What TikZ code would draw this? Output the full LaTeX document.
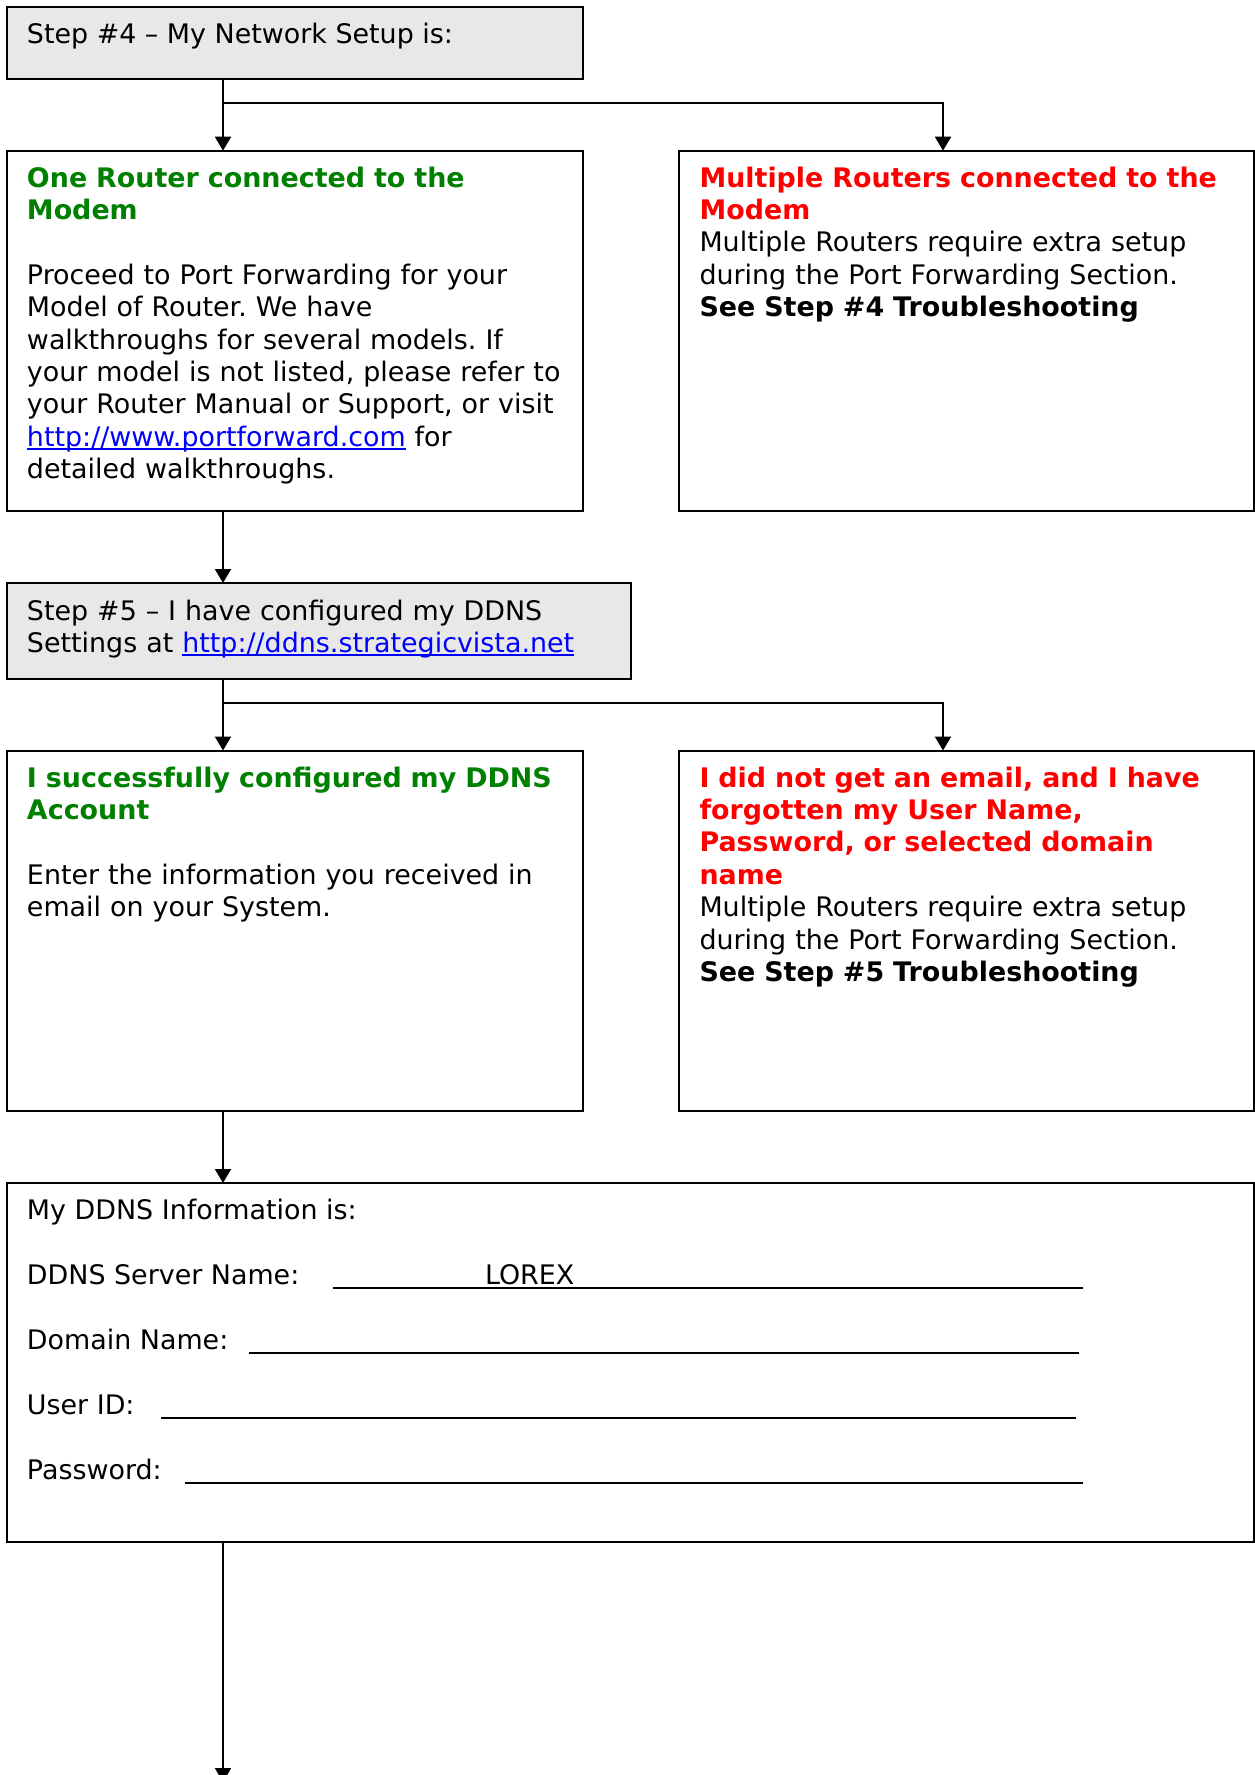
\documentclass[tikz,border=0pt]{standalone}
\usepackage{fontspec}
\setmainfont{DejaVu Sans}
\usetikzlibrary{arrows.meta}
\definecolor{linkblue}{RGB}{0,0,255}
\definecolor{grn}{RGB}{0,128,0}
\definecolor{rd}{RGB}{255,0,0}
\definecolor{boxgray}{RGB}{232,232,232}
\newcommand\myfs{\fontsize{26.9}{32.4}\selectfont\frenchspacing}
\newcommand\ulk[1]{\leavevmode{\color{linkblue}\setbox0=\hbox{#1}\rlap{\rule[-3.5pt]{\wd0}{2pt}}\box0}}
\begin{document}
\begin{tikzpicture}[x=1pt,y=-1pt,
  box/.style={draw, line width=2pt, rectangle, inner sep=0pt, outer sep=0pt, anchor=north west},
  txt/.style={anchor=base west, inner sep=0pt, outer sep=0pt, align=left, text width=600pt, font=\myfs},
  lbl/.style={anchor=base west, inner sep=0pt, outer sep=0pt, font=\myfs},
  arr/.style={line width=2pt, -{Triangle[width=16pt,length=14pt]}},
  fld/.style={line width=2pt}]
\path[use as bounding box, fill=white] (0,0) rectangle (1255,1775);
\clip (0,0) rectangle (1255,1775);

% boxes
\node[box, fill=boxgray, minimum width=576pt, minimum height=72pt] (b1) at (7,7) {};
\node[box, minimum width=576pt, minimum height=360pt] (b2) at (7,150.7) {};
\node[box, minimum width=575pt, minimum height=360pt] (b3) at (679,150.7) {};
\node[box, fill=boxgray, minimum width=623.5pt, minimum height=95.5pt] (b4) at (7,583) {};
\node[box, minimum width=576pt, minimum height=360pt] (b5) at (7,750.5) {};
\node[box, minimum width=575pt, minimum height=360pt] (b6) at (679,750.5) {};
\node[box, minimum width=1247pt, minimum height=359pt] (b7) at (7,1183) {};

% texts
\node[lbl] (t1) at (27,43.5) {Step \#4 – My Network Setup is:};

\node[txt] (t2) at (27,187) {{\bfseries\color{grn}One Router connected to the\\Modem}\\[32.4pt]
Proceed to Port Forwarding for your\\
Model of Router. We have\\
walkthroughs for several models. If\\
your model is not listed, please refer to\\
your Router Manual or Support, or visit\\
\ulk{http://www.portforward.com} for\\
detailed walkthroughs.};

\node[txt] (t3) at (699.5,187) {{\bfseries\color{rd}Multiple Routers connected to the\\Modem}\\
Multiple Routers require extra setup\\
during the Port Forwarding Section.\\
{\bfseries See Step \#4 Troubleshooting}};

\node[txt] (t4) at (27,620) {Step \#5 – I have configured my DDNS\\
Settings at \ulk{http://ddns.strategicvista.net}};

\node[txt] (t5) at (27,787) {{\bfseries\color{grn}I successfully configured my DDNS\\Account}\\[32.4pt]
Enter the information you received in\\
email on your System.};

\node[txt] (t6) at (699.5,787) {{\bfseries\color{rd}I did not get an email, and I have\\
forgotten my User Name,\\
Password, or selected domain\\
name}\\
Multiple Routers require extra setup\\
during the Port Forwarding Section.\\
{\bfseries See Step \#5 Troubleshooting}};

\node[lbl] (l0) at (27,1219.5) {My DDNS Information is:};
\node[lbl] (l1) at (27,1284.5) {DDNS Server Name:};
\node[lbl] (lx) at (485,1284.5) {LOREX};
\node[lbl] (l2) at (27,1349.5) {Domain Name:};
\node[lbl] (l3) at (27,1414.5) {User ID:};
\node[lbl] (l4) at (27,1479) {Password:};

% fill-in lines
\draw[fld] (333,1288) -- (1082.5,1288);
\draw[fld] (249,1353) -- (1079,1353);
\draw[fld] (161,1418) -- (1076,1418);
\draw[fld] (185,1482.5) -- (1082.5,1482.5);

% connectors
\coordinate (j1) at (223,102.7);
\coordinate (k1) at (943,102.7);
\coordinate (j2) at (223,703);
\coordinate (k2) at (943,703);
\coordinate (endp) at (223,1782);

\draw[arr] (b1.south -| j1) -- (b2.north -| j1);
\draw[arr] (j1) -- (k1) -- (k1 |- b3.north);
\draw[arr] (b2.south -| j1) -- (b4.north -| j1);
\draw[arr] (b4.south -| j2) -- (b5.north -| j2);
\draw[arr] (j2) -- (k2) -- (k2 |- b6.north);
\draw[arr] (b5.south -| j2) -- (b7.north -| j2);
\draw[arr] (b7.south -| endp) -- (endp);
\end{tikzpicture}
\end{document}
